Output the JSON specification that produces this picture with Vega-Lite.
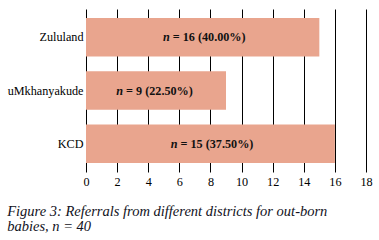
{
  "$schema": "https://vega.github.io/schema/vega-lite/v6.json",
  "width": 280,
  "height": 163,
  "autosize": {"type": "none"},
  "padding": {"left": 86, "top": 9, "right": 13, "bottom": 68},
  "background": "white",
  "data": {
    "values": [
      {"district": "Zululand", "value": 15, "label": "= 16 (40.00%)"},
      {"district": "uMkhanyakude", "value": 9, "label": "= 9 (22.50%)"},
      {"district": "KCD", "value": 16, "label": "= 15 (37.50%)"}
    ]
  },
  "title": {
    "text": ["Figure 3: Referrals from different districts for out-born", "babies, n = 40"],
    "orient": "bottom",
    "anchor": "start",
    "frame": "bounds",
    "font": "Liberation Serif",
    "fontStyle": "italic",
    "fontWeight": "normal",
    "fontSize": 14.5,
    "color": "#111122",
    "lineHeight": 15,
    "offset": 18
  },
  "layer": [
    {
      "mark": {"type": "bar", "color": "#E9A58E"},
      "encoding": {
        "y": {
          "field": "district",
          "type": "nominal",
          "sort": ["Zululand", "uMkhanyakude", "KCD"],
          "scale": {"paddingInner": 0.28, "paddingOuter": 0.17},
          "axis": {
            "title": null,
            "domain": false,
            "ticks": false,
            "labelPadding": 3,
            "labelFont": "Liberation Serif",
            "labelFontSize": 12.2,
            "labelColor": "#000000"
          }
        },
        "x": {
          "field": "value",
          "type": "quantitative",
          "scale": {"domain": [0, 18]},
          "axis": {
            "title": null,
            "values": [0, 2, 4, 6, 8, 10, 12, 14, 16, 18],
            "grid": true,
            "gridColor": "#000000",
            "gridOpacity": 1,
            "gridWidth": 1,
            "domain": false,
            "ticks": false,
            "labelPadding": 3,
            "labelFont": "Liberation Serif",
            "labelFontSize": 12.2,
            "labelColor": "#000000",
            "labelFlush": false
          }
        }
      }
    },
    {
      "mark": {"type": "text", "font": "Liberation Serif", "fontSize": 12.2, "fontWeight": "bold", "fontStyle": "italic", "align": "right", "baseline": "middle", "dx": -33, "color": "#111111"},
      "encoding": {
        "y": {"field": "district", "type": "nominal", "sort": ["Zululand", "uMkhanyakude", "KCD"]},
        "x": {"field": "value", "type": "quantitative", "scale": {"domain": [0, 36]}, "axis": null},
        "text": {"value": "n"}
      }
    },
    {
      "mark": {"type": "text", "font": "Liberation Serif", "fontSize": 12.2, "fontWeight": "bold", "align": "left", "baseline": "middle", "dx": -30, "color": "#111111"},
      "encoding": {
        "y": {"field": "district", "type": "nominal", "sort": ["Zululand", "uMkhanyakude", "KCD"]},
        "x": {"field": "value", "type": "quantitative", "scale": {"domain": [0, 36]}, "axis": null},
        "text": {"field": "label"}
      }
    }
  ],
  "resolve": {"scale": {"x": "independent"}},
  "config": {"view": {"stroke": null}}
}
